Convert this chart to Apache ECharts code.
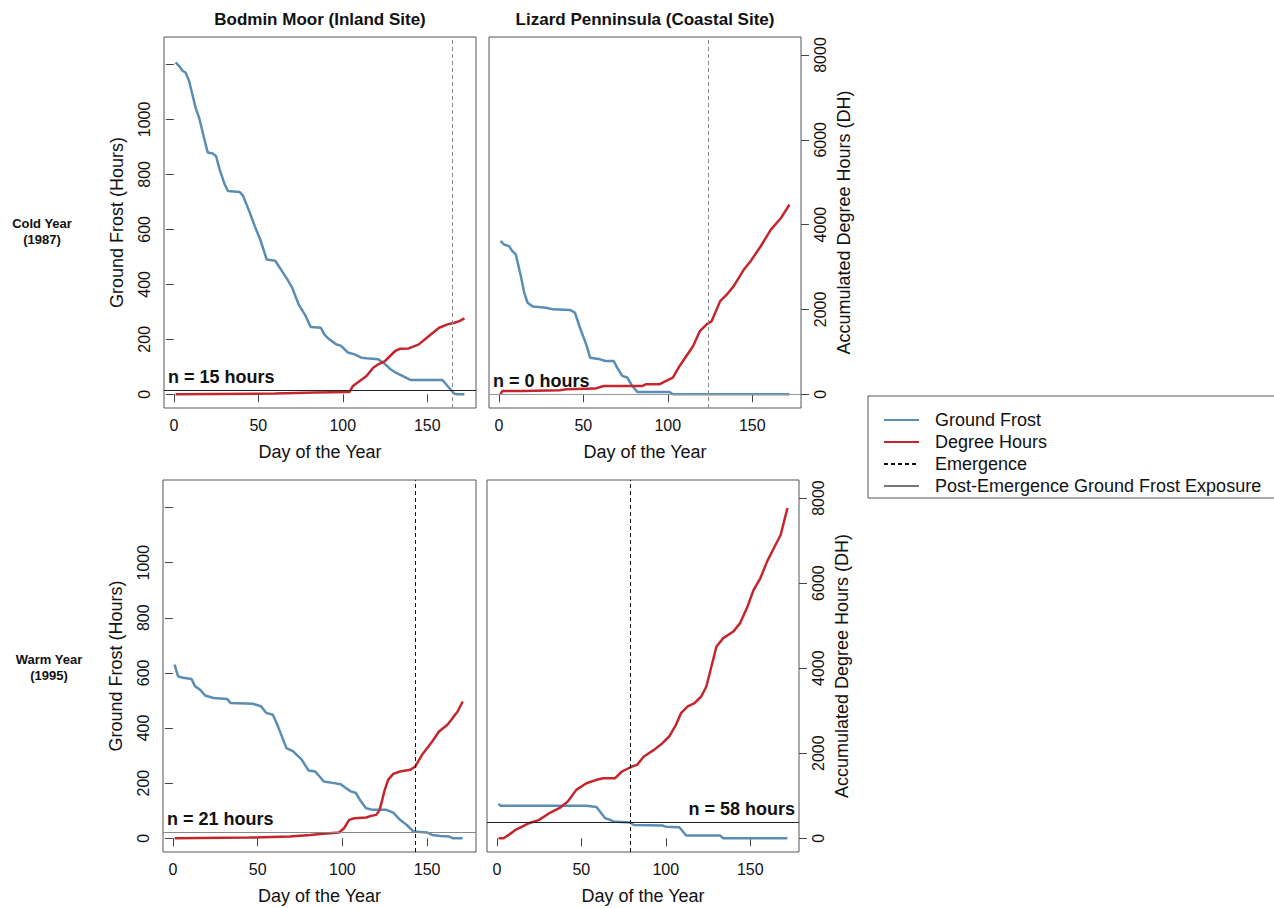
<!DOCTYPE html>
<html>
<head>
<meta charset="utf-8">
<script src="https://cdn.jsdelivr.net/npm/echarts@6/dist/echarts.min.js"></script>
<style>
html,body{margin:0;padding:0;background:#fff;}
#chart{width:1274px;height:908px;}
</style>
</head>
<body>
<div id="chart"></div>
<script>
// ---------- DATA ----------
const panelTitles = ['Bodmin Moor (Inland Site)', 'Lizard Penninsula (Coastal Site)'];
const rowLabels = ['Cold Year\n(1987)', 'Warm Year\n(1995)'];
const xTicks = [0, 50, 100, 150];
const frostTicks = [0, 200, 400, 600, 800, 1000, 1200];
const frostLabels = [0, 200, 400, 600, 800, 1000];
const dhTicks = [0, 2000, 4000, 6000, 8000];

// [day, hours]
const bodminColdFrost = [[1,1208],[3,1195],[5,1178],[7,1170],[9,1140],[11,1090],[13,1040],[15,1005],[18,930],[20,880],[23,876],[25,866],[27,820],[30,765],[32,740],[39,736],[41,722],[45,660],[48,610],[51,565],[55,490],[60,486],[64,448],[67,420],[70,388],[74,325],[78,285],[81,245],[87,242],[89,218],[92,200],[96,182],[99,176],[103,152],[107,145],[111,133],[114,131],[121,127],[125,110],[128,92],[131,80],[135,68],[140,52],[159,52],[162,30],[166,2],[168,0],[172,0]];
const bodminColdDH = [[1,0],[60,15],[84,40],[104,55],[106,196],[110,314],[114,431],[118,627],[121,706],[125,784],[128,902],[131,1020],[134,1075],[139,1080],[145,1176],[151,1373],[157,1569],[162,1647],[166,1686],[169,1725],[172,1790]];

const lizardColdFrost = [[1,558],[3,545],[6,539],[8,521],[10,509],[13,430],[15,370],[17,333],[20,319],[28,315],[32,309],[42,307],[45,297],[48,242],[52,176],[54,133],[60,127],[63,121],[68,121],[70,97],[73,67],[76,61],[79,30],[82,8],[101,8],[103,0],[172,0]];
const lizardColdDH = [[1,0],[2,78],[14,78],[36,94],[40,118],[57,133],[62,196],[85,196],[87,235],[95,235],[99,314],[103,392],[107,667],[111,902],[115,1137],[119,1490],[123,1647],[126,1725],[131,2196],[135,2353],[139,2549],[145,2941],[149,3137],[155,3490],[161,3882],[167,4157],[172,4470]];

const bodminWarmFrost = [[1,630],[3,588],[6,582],[11,578],[13,552],[16,539],[19,518],[24,509],[32,505],[34,491],[47,488],[52,479],[55,455],[59,448],[62,406],[67,327],[71,315],[76,285],[80,246],[84,242],[89,206],[95,200],[99,196],[102,182],[105,170],[108,164],[111,133],[114,109],[118,103],[126,103],[130,93],[134,67],[138,48],[142,24],[150,21],[153,12],[158,8],[163,6],[165,0],[171,0]];
const bodminWarmDH = [[1,0],[45,16],[69,39],[81,78],[87,102],[98,133],[101,235],[104,431],[107,471],[114,486],[117,525],[120,549],[122,667],[125,1137],[127,1373],[130,1514],[134,1569],[140,1608],[143,1686],[147,1961],[150,2118],[153,2275],[157,2510],[162,2667],[165,2824],[168,2980],[171,3216]];

const lizardWarmFrost = [[1,125],[2,118],[53,118],[59,113],[61,97],[64,73],[66,69],[69,61],[79,57],[81,48],[98,46],[100,42],[108,40],[111,18],[112,10],[132,10],[134,0],[172,0]];
const lizardWarmDH = [[1,0],[4,0],[7,78],[11,196],[15,275],[19,353],[25,431],[31,588],[37,706],[42,863],[47,1137],[53,1294],[59,1373],[63,1412],[70,1412],[74,1569],[80,1686],[83,1725],[87,1922],[93,2078],[98,2235],[102,2392],[106,2667],[109,2941],[113,3098],[117,3176],[121,3333],[124,3569],[127,4039],[130,4510],[134,4706],[140,4863],[144,5059],[148,5412],[152,5843],[156,6118],[160,6510],[164,6824],[168,7137],[172,7765]];

const emergenceDays = [165, 124, 143, 79];
const exposureHours = [15, 0, 21, 58];

// ---------- LAYOUT / STYLE ----------
const FONT = '"Liberation Sans", Arial, sans-serif';
const BLUE = '#5A8DB3';
const RED = '#C4262E';
const TXT = '#111';
const grids = [
  {left:164, top:37, width:312, height:371},
  {left:489, top:37, width:312, height:371},
  {left:163, top:480, width:313, height:372},
  {left:487, top:480, width:312, height:372}
];
const frostData = [bodminColdFrost, lizardColdFrost, bodminWarmFrost, lizardWarmFrost];
const dhData = [bodminColdDH, lizardColdDH, bodminWarmDH, lizardWarmDH];
const emergeColor = ['#888', '#888', '#111', '#111'];
const exposeColor = ['#222', '#999', '#888', '#222'];
const plain = v => String(v);

const xAxes = [], yAxes = [], series = [];
grids.forEach((g, i) => {
  xAxes.push({
    gridIndex: i, type: 'value', min: -5.84, max: 178.84,
    axisLine: {show: false}, splitLine: {show: false},
    axisTick: {show: true, length: 8, customValues: xTicks, lineStyle: {color: '#444'}},
    axisLabel: {customValues: xTicks, formatter: plain, fontSize: 16, color: TXT, margin: 9, fontFamily: FONT},
    name: 'Day of the Year', nameLocation: 'middle', nameGap: 35,
    nameTextStyle: {fontSize: 18, color: TXT, fontFamily: FONT}
  });
  yAxes.push({
    gridIndex: i, type: 'value', position: 'left', min: -50, max: 1300,
    show: i % 2 === 0,
    axisLine: {show: false}, splitLine: {show: false},
    axisTick: {show: true, length: 8, customValues: frostTicks, lineStyle: {color: '#444'}},
    axisLabel: {customValues: frostLabels, formatter: plain, rotate: 90, fontSize: 16, color: TXT, margin: 12, fontFamily: FONT},
    name: 'Ground Frost (Hours)', nameLocation: 'middle', nameGap: 38, nameRotate: 90,
    nameTextStyle: {fontSize: 18, color: TXT, fontFamily: FONT}
  });
  yAxes.push({
    gridIndex: i, type: 'value', position: 'right', min: -324, max: 8424,
    show: i % 2 === 1,
    axisLine: {show: false}, splitLine: {show: false},
    axisTick: {show: true, length: 8, customValues: dhTicks, lineStyle: {color: '#444'}},
    axisLabel: {customValues: dhTicks, formatter: plain, rotate: 90, fontSize: 16, color: TXT, margin: 11, fontFamily: FONT},
    name: 'Accumulated Degree Hours (DH)', nameLocation: 'middle', nameGap: 34, nameRotate: 90,
    nameTextStyle: {fontSize: 18, color: TXT, fontFamily: FONT}
  });
  const labelRight = i === 3;
  series.push({
    name: 'Ground Frost', type: 'line', xAxisIndex: i, yAxisIndex: 2 * i,
    data: frostData[i], symbol: 'none', showSymbol: false, animation: false,
    lineStyle: {color: BLUE, width: 2.5}, itemStyle: {color: BLUE}, z: 3,
    markLine: {
      silent: true, symbol: ['none', 'none'], animation: false,
      data: [
        {xAxis: emergenceDays[i], lineStyle: {type: [4, 3], color: emergeColor[i], width: 1}, label: {show: false}},
        {yAxis: exposureHours[i], lineStyle: {type: 'solid', color: exposeColor[i], width: 1},
         label: {show: true, position: labelRight ? 'insideEndTop' : 'insideStartTop',
                 formatter: 'n = ' + exposureHours[i] + ' hours',
                 fontSize: 18, fontWeight: 'bold', color: TXT, fontFamily: FONT, distance: 4}}
      ]
    }
  });
  series.push({
    name: 'Degree Hours', type: 'line', xAxisIndex: i, yAxisIndex: 2 * i + 1,
    data: dhData[i], symbol: 'none', showSymbol: false, animation: false,
    lineStyle: {color: RED, width: 2.5}, itemStyle: {color: RED}, z: 4
  });
});
// legend-only entries for the reference lines
series.push({name: 'Emergence', type: 'line', xAxisIndex: 0, yAxisIndex: 0, data: [], symbol: 'none',
  lineStyle: {type: [4, 3], color: '#111', width: 1.5}, itemStyle: {color: '#111'}});
series.push({name: 'Post-Emergence Ground Frost Exposure', type: 'line', xAxisIndex: 0, yAxisIndex: 0, data: [], symbol: 'none',
  lineStyle: {color: '#777', width: 1.2}, itemStyle: {color: '#777'}});

const graphics = [];
panelTitles.forEach((t, c) => {
  const g = grids[c];
  graphics.push({type: 'text', x: g.left + g.width / 2, y: 19,
    style: {text: t, align: 'center', verticalAlign: 'middle', textAlign: 'center', textVerticalAlign: 'middle',
            font: 'bold 17px ' + FONT, fill: TXT}});
});
const rowPos = [[42, 231], [49, 667]];
rowLabels.forEach((t, r) => {
  graphics.push({type: 'text', x: rowPos[r][0], y: rowPos[r][1],
    style: {text: t, align: 'center', verticalAlign: 'middle', textAlign: 'center', textVerticalAlign: 'middle',
            font: 'bold 13px ' + FONT, lineHeight: 16, fill: TXT}});
});

const chart = echarts.init(document.getElementById('chart'), null, {renderer: 'svg'});
chart.setOption({
  backgroundColor: '#fff',
  animation: false,
  textStyle: {fontFamily: FONT},
  grid: grids.map(g => Object.assign({show: true, borderColor: '#555', borderWidth: 1, backgroundColor: 'transparent'}, g)),
  xAxis: xAxes,
  yAxis: yAxes,
  legend: {
    data: ['Ground Frost', 'Degree Hours', 'Emergence', 'Post-Emergence Ground Frost Exposure'],
    orient: 'vertical', left: 868, top: 396, padding: [15, 14, 3, 15],
    itemWidth: 35, itemHeight: 18, itemGap: 4, selectedMode: false,
    itemStyle: {opacity: 0},
    borderColor: '#555', borderWidth: 1,
    textStyle: {fontSize: 18, color: TXT, padding: [0, 0, 0, 11], fontFamily: FONT}
  },
  graphic: graphics,
  series: series
});
</script>
</body>
</html>
